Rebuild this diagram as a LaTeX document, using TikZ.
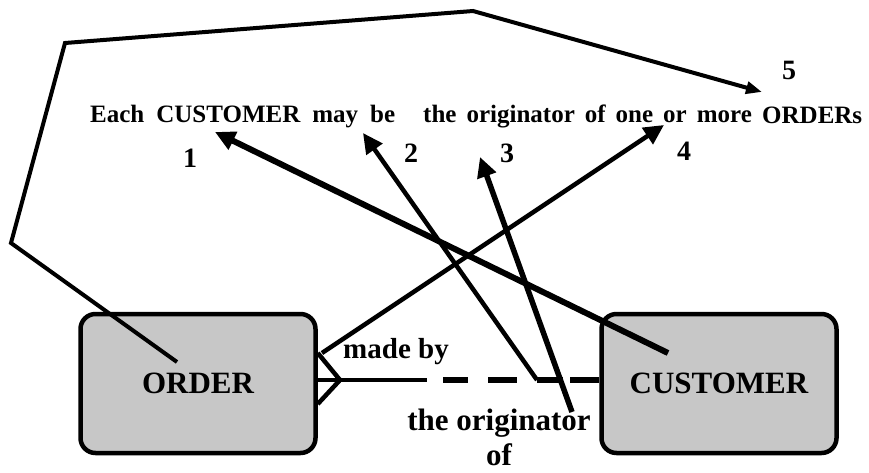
\documentclass[tikz,border=0pt]{standalone}
\usepackage{fontspec}
\setmainfont{Liberation Serif}
\usetikzlibrary{positioning,arrows.meta}
\definecolor{boxgray}{gray}{0.78}
\newcommand{\wordgap}[1]{\spaceskip=#1 plus 2pt\relax}

\begin{document}
\begin{tikzpicture}[x=1pt,y=-1pt,
    entity/.style={draw, line width=4.5pt, rounded corners=15pt, fill=boxgray,
        minimum width=235pt, minimum height=139pt, font=\fontsize{31}{34}\selectfont\bfseries},
    sentence/.style={inner sep=0pt, anchor=base west, font=\fontsize{25}{28}\selectfont\bfseries},
    rolelabel/.style={inner sep=0pt, font=\fontsize{29}{37}\selectfont\bfseries},
    numlabel/.style={inner sep=0pt, font=\fontsize{28}{30}\selectfont\bfseries},
    relline/.style={line width=4.5pt},
    pointer/.style={line width=5.5pt, -{Triangle[length=20pt,width=19pt]}},
    loopline/.style={line width=4pt, line join=miter, -{Triangle[length=16pt,width=12pt]}}]
	\useasboundingbox (0,0) rectangle (869,472);

	% entities
	\node[entity] (order) at (198,383.5) {ORDER};
	\node[entity] (customer) at (719,383.5) {CUSTOMER};

	% relationship between them
	\coordinate (crow) at (340,380);
	\coordinate (half) at (427,380);
	\coordinate (dashstart) at (443,380);
	\draw[relline] ([yshift=27pt]order.east |- crow) -- (crow) -- ([yshift=-24pt]order.east |- crow);
	\draw[relline] (order.east |- crow) -- (half);
	\draw[line width=6pt, dash pattern=on 25pt off 20pt on 29pt off 20pt on 26pt off 7pt on 31pt]
		(dashstart) -- (customer.west |- crow);
	\node[rolelabel, anchor=base] (madeby) at (396,358) {made by};
	\node[rolelabel, anchor=north, align=center, font=\fontsize{31}{35}\selectfont\bfseries] (origof) at (499,409) {the originator\\of};

	% the sentence
	\node[sentence] (txta) at (90,122) {\wordgap{12pt}Each CUSTOMER may be};
	\node[sentence] (txtb) at (423,122) {\wordgap{10pt}the originator of one or more};
	\node[sentence] (txtc) at (762,123) {ORDERs};

	\node[numlabel] (n1) at (190,158) {1};
	\node[numlabel] (n2) at (411,153) {2};
	\node[numlabel] (n3) at (507,153) {3};
	\node[numlabel] (n4) at (684,151) {4};
	\node[numlabel] (n5) at (789,70) {5};

	% pointers from the diagram to the words
	\coordinate (t1) at (668,353);
	\coordinate (h1) at (215,132);
	\coordinate (t2) at (537,380);
	\coordinate (h2) at (363,133);
	\coordinate (t3) at (572,412);
	\coordinate (h3) at (480,157);
	\coordinate (t4) at (322,353);
	\coordinate (h4) at (664,125);
	\draw[pointer, line width=6pt] (t1) -- (h1);
	\draw[pointer, line width=4.5pt] (t2) -- (h2);
	\draw[pointer] (t3) -- (h3);
	\draw[pointer, line width=4.5pt] (t4) -- (h4);

	\coordinate (t5) at (177,362);
	\coordinate (h5) at (762,92);
	\draw[loopline] (t5) -- (11,243) -- (65,43) -- (473,11) -- (h5);
\end{tikzpicture}
\end{document}
